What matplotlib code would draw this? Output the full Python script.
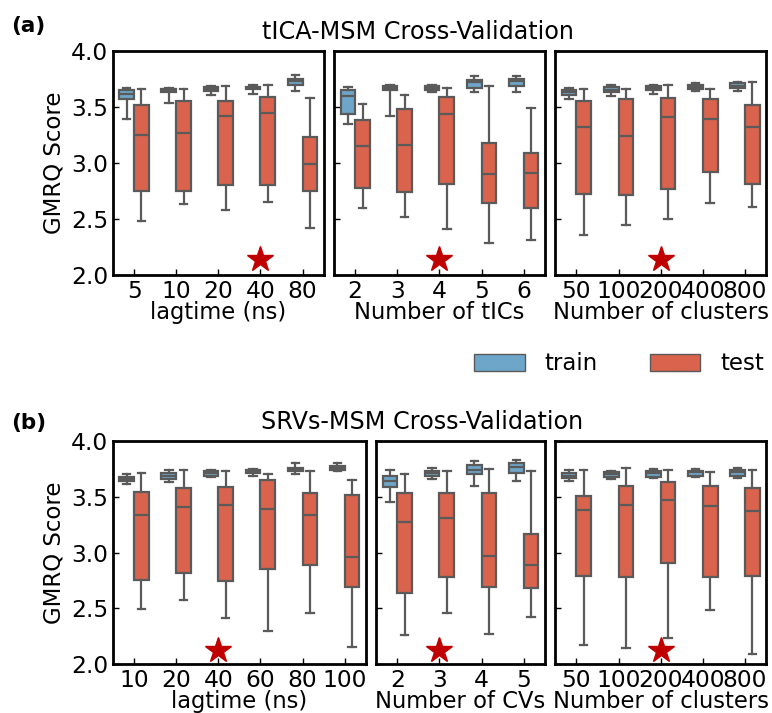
import matplotlib
matplotlib.use('Agg')
import matplotlib.pyplot as plt
from matplotlib.patches import Patch

# box stats per category: [whisker low, Q1, median, Q3, whisker high]
tica_lag_labels = ['5', '10', '20', '40', '80']
tica_lag_train = [[3.39, 3.57, 3.62, 3.65, 3.67], [3.54, 3.63, 3.645, 3.66, 3.67],
                  [3.61, 3.64, 3.665, 3.68, 3.69], [3.62, 3.66, 3.67, 3.68, 3.70],
                  [3.64, 3.70, 3.73, 3.75, 3.79]]
tica_lag_test = [[2.48, 2.75, 3.25, 3.52, 3.66], [2.63, 2.75, 3.27, 3.55, 3.66],
                 [2.58, 2.80, 3.42, 3.555, 3.69], [2.65, 2.80, 3.45, 3.59, 3.70],
                 [2.42, 2.75, 2.99, 3.23, 3.58]]

tica_tic_labels = ['2', '3', '4', '5', '6']
tica_tic_train = [[3.35, 3.44, 3.60, 3.65, 3.68], [3.42, 3.65, 3.67, 3.69, 3.70],
                  [3.635, 3.65, 3.67, 3.685, 3.70], [3.63, 3.67, 3.72, 3.745, 3.78],
                  [3.63, 3.69, 3.73, 3.75, 3.78]]
tica_tic_test = [[2.60, 2.78, 3.15, 3.38, 3.53], [2.52, 2.74, 3.16, 3.48, 3.61],
                 [2.41, 2.81, 3.44, 3.585, 3.67], [2.29, 2.64, 2.90, 3.18, 3.69],
                 [2.31, 2.60, 2.91, 3.09, 3.49]]

tica_clu_labels = ['50', '100', '200', '400', '800']
tica_clu_train = [[3.57, 3.605, 3.635, 3.655, 3.67], [3.60, 3.63, 3.655, 3.68, 3.70],
                  [3.62, 3.65, 3.67, 3.685, 3.695], [3.64, 3.66, 3.68, 3.70, 3.71],
                  [3.64, 3.67, 3.69, 3.71, 3.72]]
tica_clu_test = [[2.36, 2.72, 3.32, 3.555, 3.66], [2.45, 2.71, 3.24, 3.57, 3.66],
                 [2.50, 2.77, 3.41, 3.58, 3.70], [2.64, 2.92, 3.39, 3.57, 3.66],
                 [2.61, 2.81, 3.32, 3.52, 3.72]]

srv_lag_labels = ['10', '20', '40', '60', '80', '100']
srv_lag_train = [[3.61, 3.64, 3.66, 3.675, 3.70], [3.63, 3.66, 3.69, 3.71, 3.74],
                 [3.675, 3.69, 3.71, 3.73, 3.74], [3.69, 3.71, 3.73, 3.74, 3.75],
                 [3.70, 3.73, 3.75, 3.76, 3.80], [3.73, 3.74, 3.76, 3.78, 3.80]]
srv_lag_test = [[2.49, 2.75, 3.34, 3.54, 3.71], [2.57, 2.82, 3.41, 3.58, 3.74],
                [2.41, 2.74, 3.43, 3.59, 3.73], [2.30, 2.85, 3.39, 3.65, 3.70],
                [2.46, 2.89, 3.34, 3.53, 3.73], [2.15, 2.69, 2.96, 3.52, 3.65]]

srv_cv_labels = ['2', '3', '4', '5']
srv_cv_train = [[3.45, 3.585, 3.645, 3.69, 3.74], [3.66, 3.69, 3.71, 3.73, 3.76],
                [3.60, 3.70, 3.74, 3.785, 3.82], [3.64, 3.71, 3.765, 3.80, 3.83]]
srv_cv_test = [[2.26, 2.64, 3.27, 3.53, 3.70], [2.46, 2.78, 3.31, 3.53, 3.73],
               [2.27, 2.69, 2.97, 3.53, 3.75], [2.42, 2.68, 2.885, 3.17, 3.73]]

srv_clu_labels = ['50', '100', '200', '400', '800']
srv_clu_train = [[3.64, 3.67, 3.69, 3.71, 3.74], [3.66, 3.68, 3.705, 3.72, 3.73],
                 [3.665, 3.68, 3.71, 3.73, 3.75], [3.68, 3.69, 3.72, 3.735, 3.75],
                 [3.67, 3.69, 3.72, 3.74, 3.76]]
srv_clu_test = [[2.17, 2.79, 3.38, 3.51, 3.74], [2.14, 2.78, 3.43, 3.60, 3.76],
                [2.23, 2.91, 3.475, 3.63, 3.74], [2.48, 2.78, 3.42, 3.60, 3.72],
                [2.09, 2.79, 3.37, 3.58, 3.74]]

# index of the selected (best) setting in each panel
tica_best = [3, 2, 2]
srv_best = [2, 1, 2]

TRAIN_C = '#6ea6c9'
TEST_C = '#d9634c'
EDGE_C = '#5a5a5a'
STAR_C = '#c00000'

plt.rcParams['font.family'] = 'DejaVu Sans'
plt.rcParams['font.size'] = 16

fig = plt.figure(figsize=(7.72, 7.13), dpi=100)


def to_stats(rows):
    return [dict(whislo=r[0], q1=r[1], med=r[2], q3=r[3], whishi=r[4], fliers=[]) for r in rows]


def draw_panel(ax, labels, train, test, best, xlabel, star_y, first):
    n = len(labels)
    pos = list(range(n))
    style = dict(widths=0.35, patch_artist=True, showfliers=False,
                 boxprops=dict(edgecolor=EDGE_C, linewidth=1.6),
                 whiskerprops=dict(color=EDGE_C, linewidth=1.6),
                 capprops=dict(color=EDGE_C, linewidth=1.6),
                 medianprops=dict(color=EDGE_C, linewidth=1.6))
    b1 = ax.bxp(to_stats(train), positions=[p - 0.175 for p in pos], **style)
    b2 = ax.bxp(to_stats(test), positions=[p + 0.175 for p in pos], **style)
    for b in b1['boxes']:
        b.set_facecolor(TRAIN_C)
    for b in b2['boxes']:
        b.set_facecolor(TEST_C)
    ax.plot(best, star_y, marker='*', color=STAR_C, markersize=19, linestyle='none')
    ax.set_xlim(-0.5, n - 0.5)
    ax.set_ylim(2.0, 4.0)
    ax.set_xticks(pos)
    ax.set_xticklabels(labels)
    ax.set_yticks([2.0, 2.5, 3.0, 3.5, 4.0])
    ax.tick_params(direction='in', length=4, width=1, labelsize=16.8, pad=3.5)
    if first:
        ax.set_ylabel('GMRQ Score', fontsize=16.5)
    else:
        ax.set_yticklabels([])
    ax.set_xlabel(xlabel, fontsize=16.3, labelpad=-1)
    for s in ax.spines.values():
        s.set_linewidth(2)


top = fig.add_gridspec(1, 3, width_ratios=[5, 5, 5], left=0.1464, right=0.9922,
                       bottom=0.6143, top=0.9285, wspace=0.05)
bot = fig.add_gridspec(1, 3, width_ratios=[6, 4, 5], left=0.1464, right=0.9922,
                       bottom=0.0687, top=0.3815, wspace=0.05)

draw_panel(fig.add_subplot(top[0]), tica_lag_labels, tica_lag_train, tica_lag_test,
           tica_best[0], 'lagtime (ns)', 2.14, True)
draw_panel(fig.add_subplot(top[1]), tica_tic_labels, tica_tic_train, tica_tic_test,
           tica_best[1], 'Number of tICs', 2.14, False)
draw_panel(fig.add_subplot(top[2]), tica_clu_labels, tica_clu_train, tica_clu_test,
           tica_best[2], 'Number of clusters', 2.14, False)

draw_panel(fig.add_subplot(bot[0]), srv_lag_labels, srv_lag_train, srv_lag_test,
           srv_best[0], 'lagtime (ns)', 2.13, True)
draw_panel(fig.add_subplot(bot[1]), srv_cv_labels, srv_cv_train, srv_cv_test,
           srv_best[1], 'Number of CVs', 2.13, False)
draw_panel(fig.add_subplot(bot[2]), srv_clu_labels, srv_clu_train, srv_clu_test,
           srv_best[2], 'Number of clusters', 2.13, False)

fig.text(0.5415, 0.955, 'tICA-MSM Cross-Validation', ha='center', va='center', fontsize=17.2)
fig.text(0.5466, 0.408, 'SRVs-MSM Cross-Validation', ha='center', va='center', fontsize=17.2)
fig.text(0.015, 0.963, '(a)', ha='left', va='center', fontsize=15.5, fontweight='bold')
fig.text(0.015, 0.407, '(b)', ha='left', va='center', fontsize=15.5, fontweight='bold')

handles = [Patch(facecolor=TRAIN_C, edgecolor=EDGE_C, label='train'),
           Patch(facecolor=TEST_C, edgecolor=EDGE_C, label='test')]
fig.legend(handles=handles, loc='center right', bbox_to_anchor=(1.016, 0.4895), ncol=2,
           frameon=False, fontsize=16.5, handlelength=2.2, handleheight=0.8,
           handletextpad=0.85, columnspacing=2.3)

fig.savefig('out.png', dpi=100)
